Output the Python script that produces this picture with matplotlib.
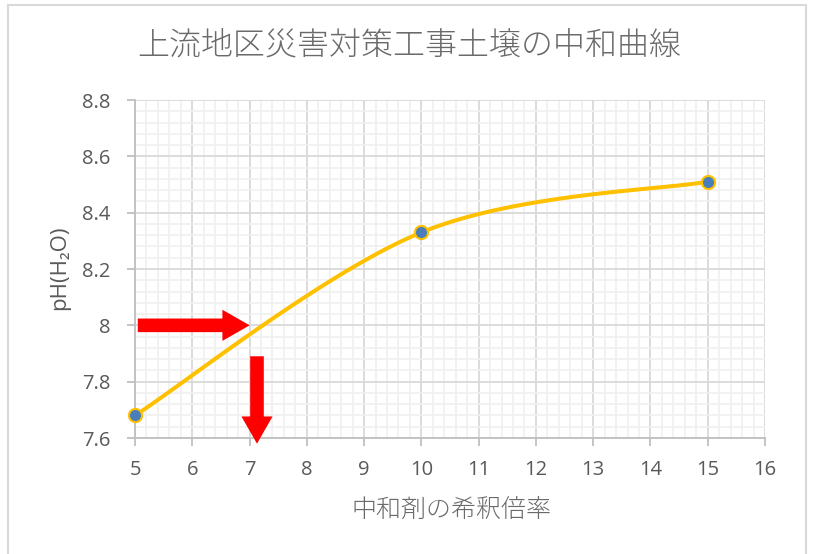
import numpy as np
import matplotlib
matplotlib.use("Agg")
import matplotlib.pyplot as plt
from matplotlib.patches import Rectangle
from matplotlib.ticker import MultipleLocator

plt.rcParams['font.family'] = ['Open Sans', 'Noto Sans CJK JP', 'DejaVu Sans']

title = "上流地区災害対策工事土壌の中和曲線"
xlabel = "中和剤の希釈倍率"
ylabel = "pH(H₂O)"
dilution = [5, 10, 15]
ph = [7.68, 8.33, 8.51]
arrow_h = [(5.0, 8.0), (7.05, 8.0)]
arrow_v = [(7.13, 7.90), (7.13, 7.57)]

fig = plt.figure(figsize=(8.13, 5.54), dpi=100)
ax = fig.add_axes([135/813, 1-438/554, (765-135)/813, (438-100)/554])

# Excel-style smoothed line (Catmull-Rom Bezier)
P = np.column_stack([dilution, ph]).astype(float)
n = len(P)
curve = []
t = np.linspace(0, 1, 60)[:, None]
for i in range(n-1):
    p0 = P[max(i-1, 0)]; p1 = P[i]; p2 = P[i+1]; p3 = P[min(i+2, n-1)]
    c1 = p1 + (p2 - p0) / 6
    c2 = p2 - (p3 - p1) / 6
    seg = (1-t)**3*p1 + 3*(1-t)**2*t*c1 + 3*(1-t)*t**2*c2 + t**3*p2
    curve.append(seg)
curve = np.vstack(curve)

ax.set_xlim(5, 16)
ax.set_ylim(7.6, 8.8)
ax.xaxis.set_major_locator(MultipleLocator(1))
ax.xaxis.set_minor_locator(MultipleLocator(0.2))
ax.yaxis.set_major_locator(MultipleLocator(0.2))
ax.yaxis.set_minor_locator(MultipleLocator(0.04))
ax.grid(which='minor', color='#f0f0f0', linewidth=1.2, zorder=0)
ax.grid(which='major', color='#d9d9d9', linewidth=1.3, zorder=0)
ax.set_axisbelow(True)
for s in ['top', 'right']:
    ax.spines[s].set_visible(False)
for s in ['left', 'bottom']:
    ax.spines[s].set_color('#bfbfbf')
    ax.spines[s].set_linewidth(1.3)
ax.tick_params(which='major', length=6, width=1.3, color='#bfbfbf',
               labelsize=14.5, labelcolor='#595959')
ax.tick_params(axis='y', which='major', pad=12)
ax.tick_params(axis='x', which='major', pad=10)
ax.tick_params(which='minor', length=0)
ax.set_yticks([7.6, 7.8, 8.0, 8.2, 8.4, 8.6, 8.8])
ax.set_yticklabels(['7.6', '7.8', '8', '8.2', '8.4', '8.6', '8.8'])

ax.plot(curve[:, 0], curve[:, 1], color='#ffc000', linewidth=2.9, zorder=3, clip_on=False)
ax.plot(dilution, ph, linestyle='none', marker='o', markersize=9.5,
        markerfacecolor='#4a7ebb', markeredgecolor='#ffc000', markeredgewidth=1.5,
        zorder=4, clip_on=False)

arrow_style = dict(arrowstyle='simple,head_length=1.4,head_width=1.6,tail_width=0.7',
                   color='#ff0000', lw=0, mutation_scale=14)
ax.annotate('', xy=arrow_h[1], xytext=arrow_h[0], arrowprops=arrow_style,
            annotation_clip=False, zorder=5)
ax.annotate('', xy=arrow_v[1], xytext=arrow_v[0], arrowprops=arrow_style,
            annotation_clip=False, zorder=5)

fig.text(409/813, 1-45/554, title, ha='center', va='center', fontsize=23,
         color='#6a6a6a', family=['Noto Sans CJK JP'], fontweight='light')
fig.text(451/813, 1-510/554, xlabel, ha='center', va='center', fontsize=18,
         color='#6a6a6a', family=['Noto Sans CJK JP'], fontweight='light')
fig.text(60/813, 1-268/554, ylabel, ha='center', va='center', fontsize=16,
         color='#595959', rotation=90, family=['Open Sans', 'DejaVu Sans'])

fig.add_artist(Rectangle((8/813, -0.05), (806-8)/813, 1.05 - 5/554 + 0.0,
                         transform=fig.transFigure, fill=False,
                         edgecolor='#d9d9d9', linewidth=1.5))

fig.savefig('out.png', dpi=100)
